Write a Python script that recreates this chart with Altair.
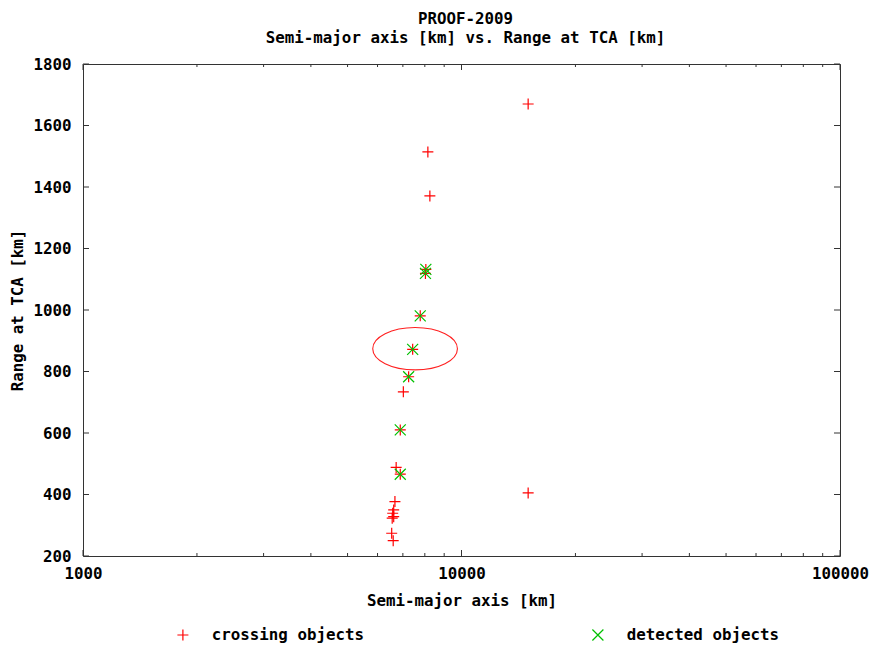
import altair as alt
import pandas as pd

# ---- data ----
crossing_a = [15000, 8150, 8250, 8050, 8030, 7780, 7430, 7250, 7020, 6890,
              6720, 6890, 6670, 6620, 6580, 6620, 6560, 6540, 6600, 15000]
crossing_r = [1670, 1514, 1371, 1132, 1119, 981, 872, 783, 734, 610,
              488, 466, 377, 350, 339, 328, 323, 274, 250, 405]
detected_a = [8050, 8030, 7780, 7430, 7250, 6890, 6890]
detected_r = [1132, 1119, 981, 872, 783, 610, 466]

series_names = ["crossing objects", "detected objects"]
series_colors = ["#ff0000", "#00c000"]

x_major = [1000, 10000, 100000]
x_minor = [2000, 3000, 4000, 5000, 6000, 7000, 8000, 9000,
           20000, 30000, 40000, 50000, 60000, 70000, 80000, 90000]
y_ticks = [200, 400, 600, 800, 1000, 1200, 1400, 1600, 1800]

# highlight ellipse (annotation) centre
ellipse_a = [7540]
ellipse_r = [874]

W, H = 757, 492
FONT = "DejaVu Sans Mono"
FS = 15.8

points = pd.DataFrame({
    "a": crossing_a + detected_a,
    "r": crossing_r + detected_r,
    "series": [series_names[0]] * len(crossing_a) + [series_names[1]] * len(detected_a),
})

x_scale = alt.Scale(type="log", domain=[1000, 100000], nice=False)
y_scale = alt.Scale(domain=[200, 1800], nice=False, zero=False)
x_axis = alt.Axis(values=x_major, format="d", title="Semi-major axis [km]",
                  labelPadding=10, titlePadding=13, labelFlush=False)
y_axis = alt.Axis(values=y_ticks, format="d", title="Range at TCA [km]",
                  labelPadding=12, titlePadding=7, labelFlush=False)

plus_path = "M-1,0L1,0M0,-1L0,1"
cross_path = "M-1,-1L1,1M-1,1L1,-1"
ellipse_path = "M-1,0A1,0.5,0,1,1,1,0A1,0.5,0,1,1,-1,0Z"

leg = alt.Legend(title=None, orient="none", legendX=92, legendY=563,
                 direction="horizontal", columns=2, columnPadding=226,
                 labelFont=FONT, labelFontSize=FS, labelFontWeight="bold",
                 labelColor="black", labelOffset=21, symbolSize=121,
                 symbolStrokeWidth=1.2, padding=0)

pts = alt.Chart(points).mark_point(filled=False, size=121, strokeWidth=1.2, opacity=1).encode(
    x=alt.X("a:Q", scale=x_scale, axis=x_axis),
    y=alt.Y("r:Q", scale=y_scale, axis=y_axis),
    color=alt.Color("series:N", scale=alt.Scale(domain=series_names, range=series_colors), legend=leg),
    shape=alt.Shape("series:N", scale=alt.Scale(domain=series_names, range=[plus_path, cross_path]), legend=leg),
)

ellipse = alt.Chart(pd.DataFrame({"a": ellipse_a, "r": ellipse_r})).mark_point(
    shape=ellipse_path, size=84.7 ** 2, filled=False, color="#ff2020", strokeWidth=1.1, opacity=1
).encode(x=alt.X("a:Q", scale=x_scale, axis=x_axis), y=alt.Y("r:Q", scale=y_scale, axis=y_axis))

TICK_C = "#333333"
xmaj_df = pd.DataFrame({"a": x_major})
xmin_df = pd.DataFrame({"a": x_minor})
y_df = pd.DataFrame({"r": y_ticks})

def xticks(df, length):
    base = alt.Chart(df).mark_rule(color=TICK_C, strokeWidth=1)
    xx = alt.X("a:Q", scale=x_scale, axis=x_axis)
    bottom = base.encode(x=xx, y=alt.value(H), y2=alt.value(H - length))
    top = base.encode(x=xx, y=alt.value(0), y2=alt.value(length))
    return [bottom, top]

def yticks(df, length):
    base = alt.Chart(df).mark_rule(color=TICK_C, strokeWidth=1)
    yy = alt.Y("r:Q", scale=y_scale, axis=y_axis)
    left = base.encode(y=yy, x=alt.value(0), x2=alt.value(length))
    right = base.encode(y=yy, x=alt.value(W - length), x2=alt.value(W))
    return [left, right]

layers = xticks(xmaj_df, 6) + xticks(xmin_df, 3) + yticks(y_df, 6) + [ellipse, pts]

chart = alt.layer(*layers).properties(
    width=W, height=H,
    title=alt.TitleParams(
        text=["PROOF-2009", "Semi-major axis [km] vs. Range at TCA [km]"],
        font=FONT, fontSize=FS, fontWeight="bold", color="black",
        anchor="middle", lineHeight=19, offset=9, dx=4,
    ),
    autosize=alt.AutoSizeParams(type="none"),
    padding={"left": 83, "top": 64, "right": 30, "bottom": 90},
).configure_view(
    stroke="#333333", strokeWidth=1
).configure_axis(
    grid=False, ticks=False, domain=False,
    labelFont=FONT, labelFontSize=FS, labelFontWeight="bold", labelColor="black",
    titleFont=FONT, titleFontSize=FS, titleFontWeight="bold", titleColor="black",
)

chart.save("out.html", embed_options={"renderer": "svg", "actions": False})
